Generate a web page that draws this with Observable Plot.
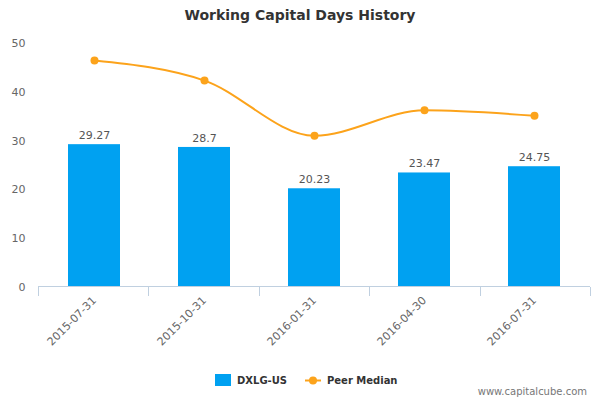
<!DOCTYPE html>
<html><head><meta charset="utf-8">
<script src="https://cdn.jsdelivr.net/npm/d3@7"></script>
<script src="https://cdn.jsdelivr.net/npm/@observablehq/plot@0.6"></script>
<style>
body{margin:0;background:#fff;font-family:"DejaVu Sans",Verdana,sans-serif;}
#wrap{position:relative;width:600px;height:400px;overflow:hidden;}
#title{position:absolute;top:7px;left:0;width:600px;text-align:center;font-size:14px;font-weight:bold;color:#333;}
#chart{position:absolute;top:0;left:0;}
#legend{position:absolute;top:374px;left:0;width:600px;font-size:10px;font-weight:bold;color:#333;}
#credit{position:absolute;top:386px;right:13px;font-size:10px;color:#777;}
</style></head>
<body><div id="wrap">
<div id="chart"></div>
<div id="title">Working Capital Days History</div>
<div id="legend">
 <span style="position:absolute;left:215px;top:0;width:16px;height:12px;background:#00a1f1"></span>
 <span style="position:absolute;left:237px;top:0;line-height:13px">DXLG-US</span>
 <svg style="position:absolute;left:305px;top:0" width="16" height="13"><line x1="0" y1="6.5" x2="16" y2="6.5" stroke="#fca31b" stroke-width="2"/><circle cx="8" cy="6.5" r="4" fill="#fca31b"/></svg>
 <span style="position:absolute;left:327px;top:0;line-height:13px">Peer Median</span>
</div>
<div id="credit">www.capitalcube.com</div>
</div>
<script>
const dates = ["2015-07-31","2015-10-31","2016-01-31","2016-04-30","2016-07-31"];
const companyValues = [29.27, 28.7, 20.23, 23.47, 24.75];
const companyLabels = ["29.27","28.7","20.23","23.47","24.75"];
const peerMedian = [46.5, 42.4, 31.1, 36.3, 35.2];
const yTicks = [0,10,20,30,40,50];

const rows = dates.map((d,i)=>({date:d, value:companyValues[i], label:companyLabels[i], peer:peerMedian[i]}));

const boundaryTicks = (index, scales, values, dim) => {
  const g = d3.create("svg:g");
  const n = dates.length;
  const x0 = dim.marginLeft, x1 = dim.width - dim.marginRight;
  const y0 = dim.height - dim.marginBottom;
  for (let i=0;i<=n;i++){
    const x = Math.round(x0 + i*(x1-x0)/n) + 0.5;
    g.append("line").attr("x1",x).attr("x2",x).attr("y1",y0).attr("y2",y0+9)
     .attr("stroke","#c0d0e0").attr("stroke-width",1);
  }
  g.append("line").attr("x1",x0).attr("x2",x1).attr("y1",y0-0.5).attr("y2",y0-0.5)
   .attr("stroke","#c0d0e0").attr("stroke-width",1);
  return g.node();
};

const chart = Plot.plot({
  width: 600,
  height: 370,
  marginTop: 43,
  marginBottom: 83,
  marginLeft: 38,
  marginRight: 10,
  style: {fontFamily: '"DejaVu Sans", Verdana, sans-serif', fontSize: "11px", color:"#666", background:"transparent"},
  x: {domain: dates, paddingInner: 0.53, paddingOuter: 0.265, label: null},
  y: {domain: [0,50], label: null},
  marks: [
    Plot.barY(rows, {x:"date", y:"value", fill:"#00a1f1"}),
    Plot.text(rows, {x:"date", y:"value", text:"label", dy:-9, fill:"#555", fontSize:11}),
    boundaryTicks,
    Plot.axisY({ticks: yTicks, tickSize:0, tickPadding:13, fill:"#666", fontSize:11}),
    Plot.axisX({tickSize:0, tickPadding:11, tickRotate:-45, fill:"#666", fontSize:11}),
    Plot.line(rows, {x:"date", y:"peer", stroke:"#fca31b", strokeWidth:2, curve:"monotone-x"}),
    Plot.dot(rows, {x:"date", y:"peer", fill:"#fca31b", r:4})
  ]
});
document.getElementById("chart").appendChild(chart);
</script>
</body></html>
